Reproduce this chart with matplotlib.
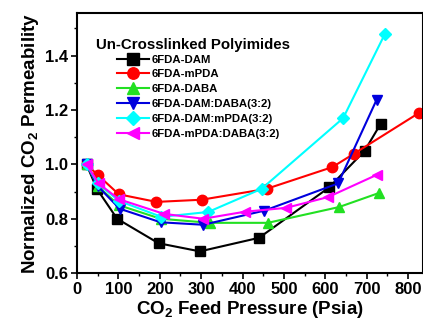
import matplotlib
matplotlib.use("Agg")
import matplotlib.pyplot as plt
from matplotlib.ticker import MultipleLocator

plt.rcParams["font.family"] = ["Liberation Sans", "DejaVu Sans"]
plt.rcParams["font.weight"] = "bold"
plt.rcParams["mathtext.fontset"] = "custom"
plt.rcParams["mathtext.rm"] = "Liberation Sans:bold"
plt.rcParams["mathtext.bf"] = "Liberation Sans:bold"
plt.rcParams["mathtext.default"] = "bf"

# Data
dam_x = [23, 48, 97, 197, 297, 440, 609, 695, 734]
dam_y = [1.00, 0.91, 0.80, 0.71, 0.68, 0.73, 0.915, 1.05, 1.15]

mpda_x = [23, 51, 101, 192, 301, 458, 617, 670, 827]
mpda_y = [1.00, 0.96, 0.89, 0.862, 0.87, 0.91, 0.99, 1.04, 1.19]

daba_x = [23, 50, 101, 202, 321, 461, 633, 730]
daba_y = [1.00, 0.92, 0.85, 0.80, 0.785, 0.785, 0.843, 0.895]

damdaba_x = [23, 50, 103, 202, 305, 453, 631, 724]
damdaba_y = [1.00, 0.92, 0.837, 0.787, 0.778, 0.83, 0.93, 1.238]

dammpda_x = [23, 50, 101, 204, 317, 446, 643, 744]
dammpda_y = [1.00, 0.93, 0.866, 0.807, 0.825, 0.91, 1.17, 1.48]

mpdadaba_x = [23, 52, 101, 210, 305, 406, 505, 607, 725]
mpdadaba_y = [1.00, 0.93, 0.872, 0.818, 0.80, 0.826, 0.84, 0.88, 0.962]

series = [
    ("6FDA-DAM", dam_x, dam_y, "black", "s"),
    ("6FDA-mPDA", mpda_x, mpda_y, "#ff0000", "o"),
    ("6FDA-DABA", daba_x, daba_y, "#22e022", "^"),
    ("6FDA-DAM:DABA(3:2)", damdaba_x, damdaba_y, "#0000dd", "v"),
    ("6FDA-DAM:mPDA(3:2)", dammpda_x, dammpda_y, "#00ffff", "D"),
    ("6FDA-mPDA:DABA(3:2)", mpdadaba_x, mpdadaba_y, "#ff00ff", "<"),
]

fig = plt.figure(figsize=(4.23, 3.24), dpi=100)
ax = fig.add_axes([0.182, 0.157, 0.818, 0.803])

for name, x, y, c, m in series:
    ms = 6.5 if m == "D" else 7.5
    ax.plot(x, y, color=c, marker=m, markersize=ms, linewidth=1.5,
            label=name, clip_on=False)

ax.set_xlim(0, 836)
ax.set_ylim(0.6, 1.557)
ax.xaxis.set_major_locator(MultipleLocator(100))
ax.xaxis.set_minor_locator(MultipleLocator(50))
ax.yaxis.set_major_locator(MultipleLocator(0.2))
ax.yaxis.set_minor_locator(MultipleLocator(0.1))
ax.yaxis.set_major_formatter(plt.FormatStrFormatter("%.1f"))
ax.tick_params(which="major", direction="out", length=4.5, width=1.2,
               labelsize=12, pad=2)
ax.tick_params(which="minor", direction="out", length=2.5, width=1.0)
for s in ax.spines.values():
    s.set_linewidth(1.5)

ax.set_xlabel("CO$_2$ Feed Pressure (Psia)", fontsize=13.5, fontweight="bold", labelpad=1)
ax.set_ylabel("Normalized CO$_2$ Permeability", fontsize=13.5, fontweight="bold", labelpad=3)

ax.text(0.055, 0.878, "Un-Crosslinked Polyimides", transform=ax.transAxes,
        fontsize=10.8, fontweight="bold", va="center")
leg = ax.legend(loc="upper left", bbox_to_anchor=(0.115, 0.84), frameon=False,
                fontsize=8.2, handlelength=2.8, handletextpad=0.25,
                labelspacing=0.42, borderaxespad=0, borderpad=0,
                markerscale=1.1)
for t in leg.get_texts():
    t.set_fontweight("bold")

fig.savefig("out.png", dpi=100)
